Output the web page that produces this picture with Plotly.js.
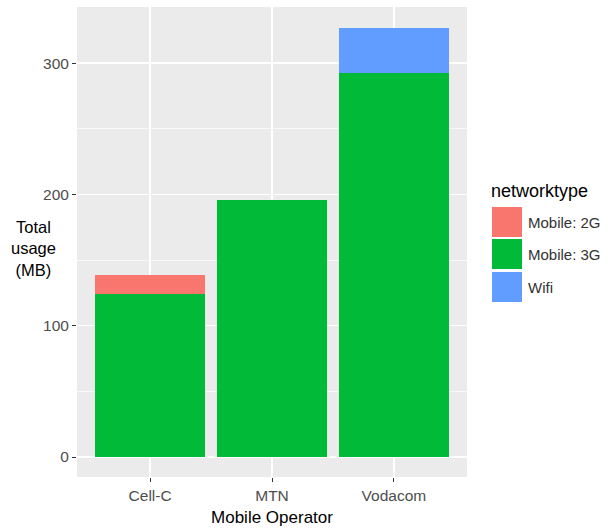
<!DOCTYPE html>
<html>
<head>
<meta charset="utf-8">
<script src="https://cdn.plot.ly/plotly-3.0.1.min.js"></script>
<style>html,body{margin:0;padding:0;background:#fff;} #chart{width:608px;height:529px;}</style>
</head>
<body>
<div id="chart"></div>
<script>
const operators = ["Cell-C", "MTN", "Vodacom"];
const seriesNames = ["Mobile: 2G", "Mobile: 3G", "Wifi"];
const seriesColors = ["#F8766D", "#00BA38", "#619CFF"];
const mobile3G = [124.4, 196, 292.4];
const mobile2G = [14, 0, 0];
const wifi = [0, 0, 34.6];
const yTicks = [0, 100, 200, 300];

const W = 608, H = 529;
const M = {l: 77, r: 141, t: 7, b: 52};
const pw = W - M.l - M.r, ph = H - M.t - M.b;
const px = x => (x - M.l) / pw;
const py = y => (H - M.b - y) / ph;
const FONT = 'Liberation Sans, Arial, Helvetica';

const traces = [
  {type: 'bar', name: seriesNames[1], x: operators, y: mobile3G, marker: {color: seriesColors[1]}, showlegend: false},
  {type: 'bar', name: seriesNames[0], x: operators, y: mobile2G, marker: {color: seriesColors[0]}, showlegend: false},
  {type: 'bar', name: seriesNames[2], x: operators, y: wifi, marker: {color: seriesColors[2]}, showlegend: false}
];

const shapes = [];
const annotations = [];
// y title
annotations.push({xref: 'paper', yref: 'paper', x: px(33), y: py(249), text: 'Total<br>usage<br>(MB)', showarrow: false,
  xanchor: 'center', yanchor: 'middle', align: 'center', font: {family: FONT, size: 16.5, color: '#000'}});
// legend
annotations.push({xref: 'paper', yref: 'paper', x: px(489), y: py(191), text: 'networktype', showarrow: false,
  xanchor: 'left', yanchor: 'middle', font: {family: FONT, size: 18, color: '#000'}});
const keyY = [222, 254, 287];
seriesNames.forEach((n, i) => {
  shapes.push({type: 'rect', xref: 'paper', yref: 'paper', x0: px(492), x1: px(522), y0: py(keyY[i] - 15), y1: py(keyY[i] + 15),
    fillcolor: seriesColors[i], line: {width: 0}});
  annotations.push({xref: 'paper', yref: 'paper', x: px(526), y: py(keyY[i]), text: n, showarrow: false,
    xanchor: 'left', yanchor: 'middle', font: {family: FONT, size: 15, color: '#333'}});
});

const layout = {
  width: W, height: H,
  margin: M,
  paper_bgcolor: '#fff',
  plot_bgcolor: '#EBEBEB',
  barmode: 'stack',
  bargap: 0.1,
  showlegend: false,
  font: {family: FONT, color: '#4D4D4D', size: 15},
  xaxis: {
    range: [-0.6, 2.6], showgrid: true, gridcolor: '#fff', gridwidth: 1.4,
    ticks: 'outside', ticklen: 4, tickcolor: '#333', tickwidth: 1,
    zeroline: false, showline: false,
    title: {text: 'Mobile Operator', font: {size: 17, color: '#000'}, standoff: 8},
    tickfont: {size: 15.5, color: '#4D4D4D'}
  },
  yaxis: {
    range: [-15.2, 342.7], tickvals: yTicks, ticktext: yTicks.map(String),
    showgrid: true, gridcolor: '#fff', gridwidth: 1.4,
    minor: {tickvals: [50, 150, 250], showgrid: true, gridcolor: '#fff', gridwidth: 0.7, ticks: ''},
    ticks: 'outside', ticklen: 4, tickcolor: '#333', tickwidth: 1,
    zeroline: false, showline: false,
    tickfont: {size: 15.5, color: '#4D4D4D'}
  },
  shapes: shapes,
  annotations: annotations
};

Plotly.newPlot('chart', traces, layout, {displayModeBar: false, staticPlot: true});
</script>
</body>
</html>
